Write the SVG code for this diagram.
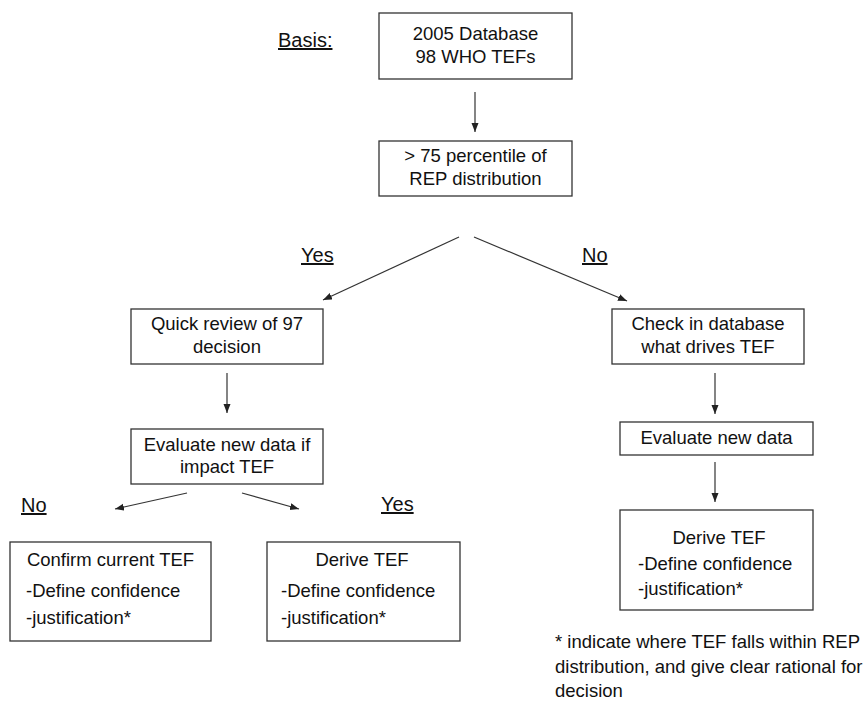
<svg xmlns="http://www.w3.org/2000/svg" width="867" height="702" viewBox="0 0 867 702">
<defs>
<style>
text{font-family:"Liberation Sans",Arial,sans-serif;fill:#111;}
.t{font-size:18.5px;}
.c{text-anchor:middle;}
.lbl{font-size:20px;text-decoration:underline;}
.box{fill:#fff;stroke:#333;stroke-width:1.3;}
.con{stroke:#333;stroke-width:1.2;fill:none;marker-end:url(#ah);}
</style>
<marker id="ah" markerUnits="userSpaceOnUse" markerWidth="12" markerHeight="10" refX="9" refY="3.5" orient="auto">
<path d="M0,0 L9,3.5 L0,7 Z" fill="#222"/>
</marker>
</defs>
<rect width="867" height="702" fill="#fff"/>
<text class="lbl" x="278" y="47">Basis:</text>
<text class="lbl" x="301" y="262">Yes</text>
<text class="lbl" x="582" y="262">No</text>
<text class="lbl" x="21" y="512">No</text>
<text class="lbl" x="381" y="511">Yes</text>
<g id="connectors">
<line class="con" x1="475" y1="92" x2="475" y2="132"/>
<line class="con" x1="459" y1="237" x2="323" y2="300"/>
<line class="con" x1="474" y1="237" x2="627" y2="301"/>
<line class="con" x1="227" y1="373" x2="227" y2="413"/>
<line class="con" x1="187" y1="493" x2="115" y2="509"/>
<line class="con" x1="242" y1="493" x2="299" y2="509"/>
<line class="con" x1="715" y1="373" x2="715" y2="414"/>
<line class="con" x1="715" y1="462" x2="715" y2="502"/>
</g>
<g id="n1"><rect class="box" x="379" y="13" width="193" height="66"/>
<text class="t c" x="475.5" y="40">2005 Database</text><text class="t c" x="475.5" y="63">98 WHO TEFs</text></g>
<g id="n2"><rect class="box" x="379" y="141" width="193" height="55"/>
<text class="t c" x="475.5" y="162">&gt; 75 percentile of</text><text class="t c" x="475.5" y="185">REP distribution</text></g>
<g id="n3"><rect class="box" x="131" y="309" width="192" height="55"/>
<text class="t c" x="227" y="330">Quick review of 97</text><text class="t c" x="227" y="353">decision</text></g>
<g id="n4"><rect class="box" x="131" y="429" width="192" height="55"/>
<text class="t c" x="227" y="451">Evaluate new data if</text><text class="t c" x="227" y="473">impact TEF</text></g>
<g id="n5"><rect class="box" x="10" y="542" width="201" height="99"/>
<text class="t c" x="110.5" y="566">Confirm current TEF</text><text class="t" x="26" y="597">-Define confidence</text><text class="t" x="26" y="624">-justification*</text></g>
<g id="n6"><rect class="box" x="267" y="542" width="193" height="99"/>
<text class="t c" x="362" y="566">Derive TEF</text><text class="t" x="281" y="597">-Define confidence</text><text class="t" x="281" y="624">-justification*</text></g>
<g id="n7"><rect class="box" x="612" y="309" width="192" height="55"/>
<text class="t c" x="708" y="330">Check in database</text><text class="t c" x="708" y="353">what drives TEF</text></g>
<g id="n8"><rect class="box" x="620" y="422" width="193" height="33"/>
<text class="t c" x="716.5" y="444">Evaluate new data</text></g>
<g id="n9"><rect class="box" x="620" y="510" width="193" height="100"/>
<text class="t c" x="719" y="544">Derive TEF</text><text class="t" x="638" y="570">-Define confidence</text><text class="t" x="638" y="595">-justification*</text></g>
<g id="note">
<text class="t" x="555" y="648">* indicate where TEF falls within REP</text>
<text class="t" x="555" y="673">distribution, and give clear rational for</text>
<text class="t" x="555" y="697">decision</text>
</g>
</svg>
